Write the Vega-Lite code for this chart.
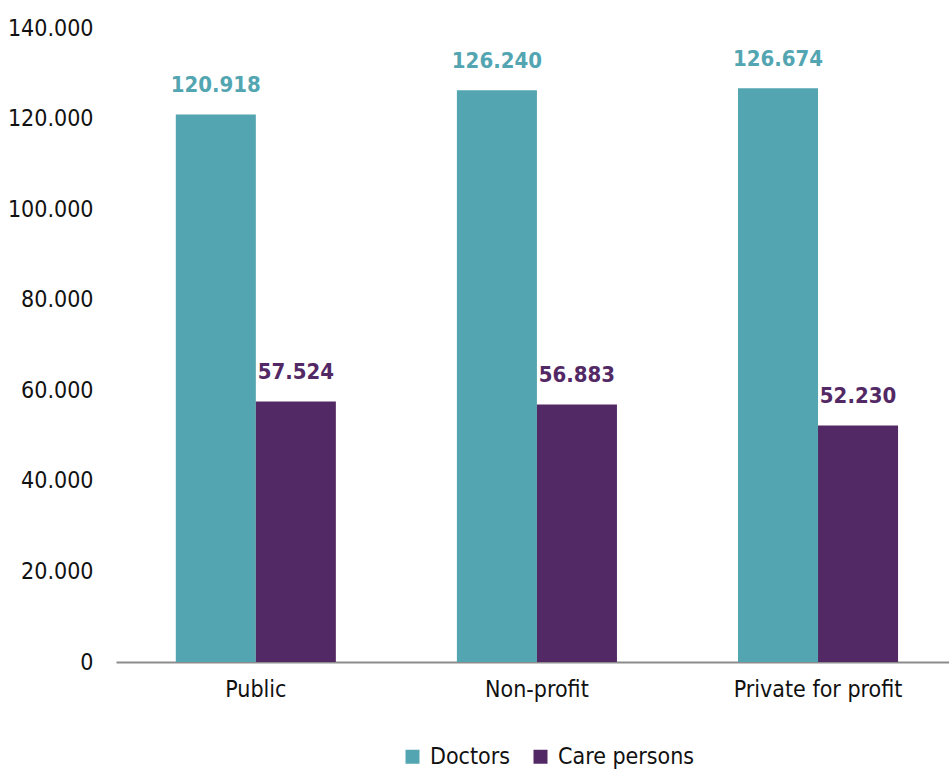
{
  "$schema": "https://vega.github.io/schema/vega-lite/v6.json",
  "width": 833,
  "height": 634,
  "autosize": "none",
  "padding": {"left": 116, "top": 28, "right": 0, "bottom": 109},
  "background": "white",
  "config": {
    "view": {"stroke": null},
    "font": "DejaVu Sans Condensed",
    "locale": {"number": {"decimal": ",", "thousands": ".", "grouping": [3], "currency": ["", " €"]}}
  },
  "data": {
    "values": [
      {"sector": "Public", "group": "Doctors", "value": 120918},
      {"sector": "Public", "group": "Care persons", "value": 57524},
      {"sector": "Non-profit", "group": "Doctors", "value": 126240},
      {"sector": "Non-profit", "group": "Care persons", "value": 56883},
      {"sector": "Private for profit", "group": "Doctors", "value": 126674},
      {"sector": "Private for profit", "group": "Care persons", "value": 52230}
    ]
  },
  "encoding": {
    "x": {
      "field": "sector", "type": "nominal", "sort": ["Public", "Non-profit", "Private for profit"],
      "scale": {"paddingInner": 0.4306, "paddingOuter": 0.197, "align": 0.54},
      "axis": {"title": null, "labelAngle": 0, "ticks": false, "domainColor": "#8c8c8c", "domainWidth": 2, "labelFontSize": 23, "labelColor": "#111", "labelPadding": 16}
    },
    "xOffset": {"field": "group", "type": "nominal", "sort": ["Doctors", "Care persons"], "scale": {"paddingInner": 0, "paddingOuter": 0}},
    "y": {
      "field": "value", "type": "quantitative",
      "scale": {"domain": [0, 140000], "nice": false},
      "axis": {"title": null, "grid": false, "domain": false, "ticks": false, "values": [0, 20000, 40000, 60000, 80000, 100000, 120000, 140000], "format": ",.0f", "labelFontSize": 23, "labelColor": "#111", "labelPadding": 23}
    },
    "color": {
      "field": "group", "type": "nominal", "sort": ["Doctors", "Care persons"],
      "scale": {"domain": ["Doctors", "Care persons"], "range": ["#53a6b1", "#532965"]},
      "legend": {"title": null, "orient": "none", "legendX": 285, "legendY": 717, "direction": "horizontal", "columns": 2, "columnPadding": 18, "symbolType": "square", "symbolSize": 196, "symbolStrokeWidth": 0, "symbolOpacity": 1, "labelFontSize": 23, "labelColor": "#111", "labelOffset": 6}
    }
  },
  "layer": [
    {"mark": {"type": "bar", "opacity": 1}},
    {
      "mark": {"type": "text", "baseline": "bottom", "dy": -17, "fontSize": 22, "fontWeight": "bold"},
      "encoding": {"text": {"field": "value", "type": "quantitative", "format": ",.0f"}}
    }
  ]
}
